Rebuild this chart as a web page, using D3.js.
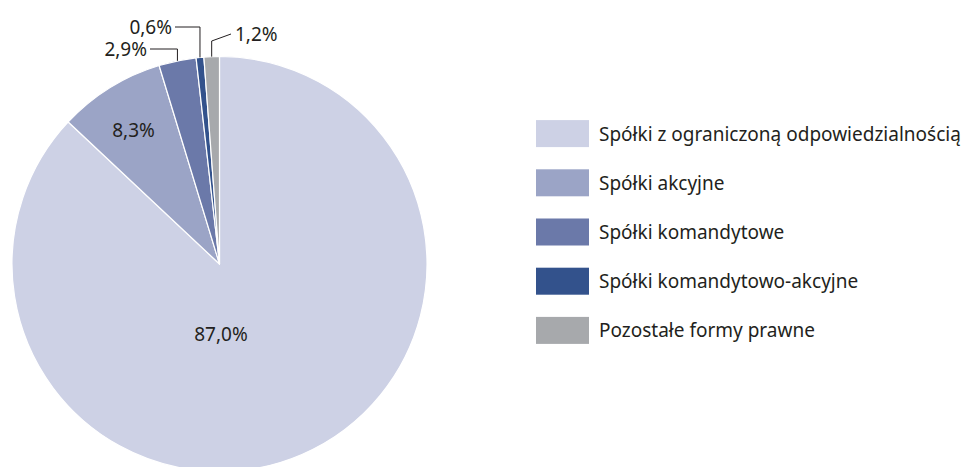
<!DOCTYPE html>
<html>
<head>
<meta charset="utf-8">
<script src="https://cdn.jsdelivr.net/npm/d3@7"></script>
<style>
  body { margin: 0; background: #fff; }
  text { font-family: "Noto Sans", "Open Sans", sans-serif; fill: #231f20; }
</style>
</head>
<body>
<div id="main"></div>
<script>
// DATA
const categories = [
  "Spółki z ograniczoną odpowiedzialnością",
  "Spółki akcyjne",
  "Spółki komandytowe",
  "Spółki komandytowo-akcyjne",
  "Pozostałe formy prawne"
]
const shares = [87.0, 8.3, 2.9, 0.6, 1.2]
const colors = ['#cdd1e5', '#9ba4c6', '#6b79a9', '#33528c', '#a7a9ac']

// SETUP
const width = 964
const height = 467
const cx = 219.5, cy = 264, radius = 207.5

// label layout: inner labels use an offset from the centre, outer ones a callout elbow
const labelLayout = [
  { type: 'inner', dx: 1.5, dy: 70 },
  { type: 'inner', dx: -86, dy: -134 },
  { type: 'callout', elbowY: 49, endX: 150, side: 'left' },
  { type: 'callout', elbowY: 27, endX: 175, side: 'left' },
  { type: 'callout', elbowY: 41, endX: 231, endY: 34, side: 'right' }
]

const fmt = v => v.toFixed(1).replace('.', ',') + '%'

let svg = d3.select('#main').append('svg')
  .attr('width', width)
  .attr('height', height)

let pie = d3.pie().sort(null).value(d => d)
let arc = d3.arc().innerRadius(0).outerRadius(radius)
let arcs = pie(shares)

let g = svg.append('g').attr('transform', `translate(${cx},${cy})`)

g.selectAll('path.slice')
  .data(arcs)
  .enter().append('path')
    .attr('class', 'slice')
    .attr('d', arc)
    .attr('fill', (d, i) => colors[i])
    .attr('stroke', '#fff')
    .attr('stroke-width', 1.2)
    .attr('stroke-linejoin', 'round')

// labels
arcs.forEach((d, i) => {
  let lay = labelLayout[i]
  if (lay.type === 'inner') {
    g.append('text')
      .attr('x', lay.dx)
      .attr('y', lay.dy)
      .attr('text-anchor', 'middle')
      .attr('dominant-baseline', 'central')
      .style('font-size', '19px')
      .text(fmt(d.data))
  } else {
    let mid = (d.startAngle + d.endAngle) / 2
    let px = radius * Math.sin(mid)
    let py = -radius * Math.cos(mid)
    let elbowY = lay.elbowY - cy
    let endX = lay.endX - cx
    let endY = (lay.endY !== undefined ? lay.endY : lay.elbowY) - cy
    g.append('path')
      .attr('d', d3.line()([[px, py], [px, elbowY], [endX, endY]]))
      .attr('fill', 'none')
      .attr('stroke', '#231f20')
      .attr('stroke-width', 1)
    g.append('text')
      .attr('x', lay.side === 'left' ? endX - 3 : endX + 4)
      .attr('y', endY)
      .attr('text-anchor', lay.side === 'left' ? 'end' : 'start')
      .attr('dominant-baseline', 'central')
      .style('font-size', '19px')
      .text(fmt(d.data))
  }
})

// legend
let legendY = d3.scaleBand()
  .domain(categories)
  .range([109, 355])

let legend = svg.append('g')
  .selectAll('g')
  .data(categories)
  .enter().append('g')
    .attr('transform', d => `translate(536,${legendY(d) + legendY.bandwidth() / 2})`)

legend.append('rect')
  .attr('x', 0)
  .attr('y', -13.5)
  .attr('width', 53)
  .attr('height', 27)
  .attr('fill', (d, i) => colors[i])

legend.append('text')
  .attr('x', 63)
  .attr('y', 0)
  .attr('dominant-baseline', 'central')
  .style('font-size', '19px')
  .text(d => d)
</script>
</body>
</html>
